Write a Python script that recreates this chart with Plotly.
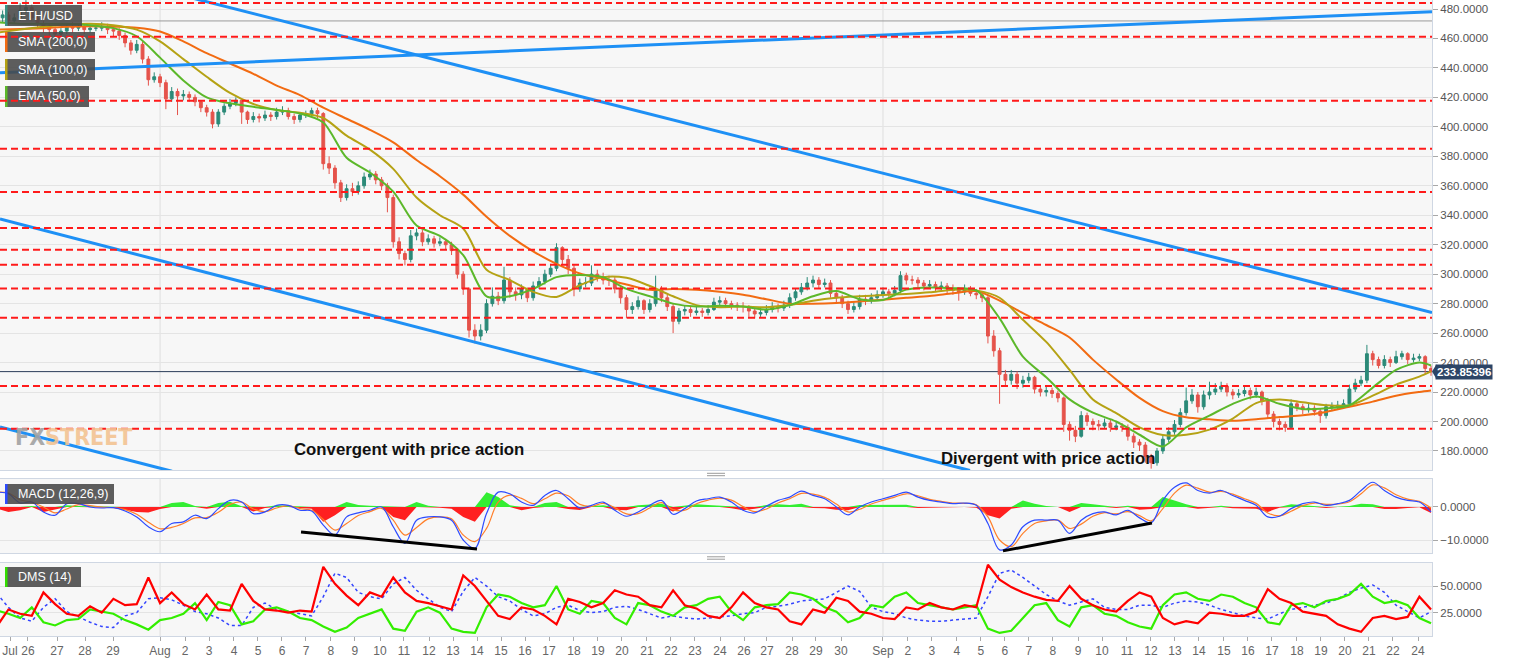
import plotly.graph_objects as go

# ---------------- data ----------------
# time axis: hours since 25 Jul 00:00; candles are 6-hour bars
OPEN0 = 474
CLOSE = [476, 472, 474, 479, 481, 474, 470, 468, 466, 463, 465, 468, 467, 468, 466, 467,
         467, 468, 466, 465, 462, 457, 452, 456, 446, 432, 434, 430, 419, 424, 421, 422,
         420, 417, 413, 410, 402, 410, 414, 416, 418, 410, 405, 407, 406, 408, 407, 410,
         411, 407, 405, 408, 409, 411, 409, 375, 372, 362, 352, 358, 356, 360, 366, 368,
         364, 360, 352, 322, 314, 310, 326, 328, 322, 324, 321, 322, 320, 316, 300, 290,
         262, 258, 262, 280, 285, 282, 296, 288, 286, 290, 284, 292, 295, 300, 304, 318,
         310, 304, 290, 294, 294, 300, 298, 296, 296, 290, 284, 276, 278, 282, 276, 280,
         290, 284, 278, 268, 275, 276, 274, 275, 274, 276, 281, 282, 280, 279, 278, 278,
         275, 273, 274, 276, 278, 277, 279, 284, 288, 291, 294, 296, 293, 294, 287, 284,
         280, 276, 278, 283, 282, 284, 286, 288, 287, 289, 299, 296, 296, 294, 292, 293,
         291, 292, 290, 289, 288, 290, 287, 286, 284, 258, 248, 232, 228, 232, 226, 228,
         230, 222, 220, 221, 219, 216, 198, 194, 190, 204, 200, 198, 197, 199, 196, 197,
         196, 190, 186, 184, 176, 172, 180, 188, 193, 198, 206, 214, 218, 210, 218, 220,
         222, 224, 220, 218, 219, 221, 218, 220, 214, 205, 200, 198, 196, 212, 210, 208,
         209, 207, 204, 210, 210, 211, 212, 222, 226, 228, 246, 242, 238, 242, 240, 244,
         246, 242, 243, 244, 236, 233.85396]
HIGH = [479, 478, 477, 484, 486, 483, 476, 472, 470, 468, 467, 470, 471, 470, 470, 469,
        470, 471, 470, 468, 467, 464, 459, 459, 458, 448, 437, 436, 432, 427, 426, 425,
        424, 422, 418, 415, 412, 412, 416, 419, 420, 419, 411, 410, 409, 411, 410, 413,
        414, 413, 409, 410, 411, 413, 413, 410, 380, 374, 364, 361, 362, 363, 369, 371,
        370, 366, 362, 354, 325, 316, 330, 331, 330, 327, 326, 325, 324, 322, 317, 302,
        291, 266, 266, 283, 291, 288, 305, 298, 291, 293, 291, 295, 298, 303, 307, 321,
        319, 313, 306, 297, 298, 306, 303, 301, 299, 298, 292, 286, 281, 285, 283, 283,
        299, 292, 286, 280, 277, 279, 278, 278, 277, 279, 284, 285, 284, 282, 281, 281,
        279, 277, 277, 279, 281, 280, 282, 287, 290, 294, 298, 299, 298, 297, 296, 289,
        286, 282, 281, 286, 286, 287, 289, 291, 290, 292, 302, 301, 299, 298, 296, 296,
        295, 295, 294, 293, 291, 293, 292, 290, 288, 286, 262, 250, 235, 235, 234, 231,
        233, 231, 224, 224, 223, 221, 217, 200, 197, 207, 206, 202, 201, 202, 201, 200,
        199, 198, 192, 188, 186, 178, 182, 191, 196, 201, 209, 223, 222, 220, 221, 227,
        226, 227, 226, 222, 222, 224, 223, 223, 221, 216, 207, 202, 200, 215, 214, 212,
        212, 211, 209, 212, 213, 214, 215, 225, 229, 231, 252, 248, 244, 245, 244, 248,
        248, 247, 246, 246, 245, 238]
LOW = [471, 469, 470, 472, 477, 472, 467, 464, 462, 460, 461, 463, 464, 465, 463, 464,
       465, 465, 463, 461, 459, 454, 449, 450, 443, 428, 430, 427, 412, 417, 408, 418,
       417, 414, 410, 407, 399, 400, 408, 412, 414, 402, 402, 403, 403, 404, 404, 405,
       408, 405, 402, 403, 406, 407, 406, 371, 368, 358, 349, 350, 353, 354, 358, 364,
       361, 357, 342, 318, 310, 306, 308, 323, 319, 320, 318, 319, 317, 313, 297, 286,
       257, 253, 255, 260, 278, 279, 280, 284, 282, 283, 281, 282, 290, 293, 298, 302,
       306, 300, 285, 288, 291, 292, 295, 293, 292, 287, 280, 270, 273, 276, 273, 274,
       278, 281, 275, 260, 266, 272, 271, 272, 271, 272, 275, 279, 277, 276, 275, 274,
       271, 270, 271, 272, 274, 274, 275, 277, 282, 286, 289, 291, 290, 291, 284, 281,
       277, 273, 274, 276, 279, 280, 282, 284, 284, 285, 287, 293, 293, 291, 289, 290,
       288, 289, 287, 286, 282, 286, 285, 283, 281, 253, 244, 212, 224, 225, 222, 223,
       226, 219, 217, 217, 216, 213, 193, 187, 186, 189, 197, 194, 194, 195, 193, 194,
       193, 187, 182, 180, 172, 168, 170, 178, 186, 191, 196, 204, 212, 206, 208, 215,
       218, 220, 217, 215, 216, 217, 215, 216, 211, 202, 196, 194, 193, 195, 207, 205,
       206, 204, 199, 202, 207, 208, 209, 211, 220, 224, 226, 238, 236, 236, 237, 239,
       242, 239, 240, 241, 232, 231]
CANDLE_T = [6 * (i + 1) for i in range(len(CLOSE))]

# moving averages, one reading per day (00:00) plus the last bar
MA_T = [24 * d for d in range(62)] + [1476]
SMA200 = [466, 466.5, 467, 468, 468.3, 468, 467.3, 464.7, 458, 450, 443, 436, 428, 421.6, 413,
          405.5, 398, 389.5, 377.5, 366.5, 354, 339, 326, 315.5, 307, 300.5, 297, 293, 289.4,
          290, 289.4, 288, 286, 283, 280, 280, 280.5, 281.5, 282.7, 284, 285.2, 287, 288.5,
          282, 273.5, 265.5, 257, 242, 228.5, 216, 207, 202.8, 201.5, 200.5, 201.5, 203,
          204.2, 206.5, 210, 213.5, 217.5, 220, 221]
SMA100 = [464, 466, 468, 469.5, 470, 469, 466, 458, 446, 434, 423, 415.5, 411.5, 409.6, 406,
          394, 384.5, 371.5, 352, 340, 331, 303, 296, 288, 284.5, 292.5, 298, 297.5, 292, 285,
          279, 277.6, 278, 277.6, 279, 282, 284, 285, 285.8, 286.6, 287.7, 289.5, 289, 284,
          269, 254, 235, 215, 205.7, 196, 190.8, 191, 194.5, 202, 212.5, 215, 213, 211, 211,
          217.5, 225, 230.5, 234]
EMA50 = [471, 470, 470, 470, 469, 467, 461.5, 447, 431.5, 420, 416, 413.6, 411.5, 409, 403,
         379, 369, 356, 333, 326, 313, 285, 285, 290, 298, 299.5, 298, 290, 285, 280, 278,
         278.5, 278, 276, 279, 285, 288.5, 283, 282.5, 289.5, 291, 290.5, 289, 270, 244, 230,
         215, 206, 200, 191, 183, 196, 204, 212, 217, 212, 208.5, 209, 211, 223, 235, 240, 238]

# indicator readings every 12 hours
IND_T = [12 * j for j in range(124)]
MACD = [4.5, 4, 1.2, 1.5, -1.5, -2.5, 1, 1, 0, -0.3,
        -0.2, -1.2, -3, -6, -7.5, -5, -4.5, -2.5, -3.5, -0.5,
        2, 1.5, -2, -1.5, 0.5, 0.5, -1, -1.2, -5.5, -8.5,
        -3, -1.8, -1, 0, -6, -11, -4, -3, -3, -4,
        -10, -12.5, -2, 4.5, 4, 1.5, 0.5, 3.5, 5, 2.5,
        -0.3, 0.5, 1.5, -1, -2.8, -1.5, 0.5, 2, -2.2, -0.5,
        1.8, 2.5, 3, 1.5, -1, -1.8, 0.2, 2, 3, 4.8,
        3.5, 2.5, 0, -2.4, 0, 1.5, 2.5, 3.5, 4.5, 3,
        2, 1.5, 1, 1.2, 0.5, -5, -13, -11.5, -6, -4,
        -4, -4, -8, -4, -2, -1.5, -2.4, -1, -3.3, -4.8,
        2, 6, 7.3, 5, 4.2, 5, 3.5, 2, 0.5, -3,
        -2.8, -0.5, 1, 1.5, 0.5, 1, 2, 5, 7.5, 5,
        3, 2, 1.5, -1.5]
SIGNAL = [4.5, 4.2, 2.2, 1.4, 0, -1.8, -0.6, 0.7, 0.4, 0,
          -0.2, -0.8, -2.2, -4.6, -6.6, -6.2, -5, -3.3, -3.2, -1.6,
          0.8, 1.5, -0.6, -1.4, -0.3, 0.4, -0.5, -1, -3.8, -7,
          -5, -2.6, -1.4, -0.4, -4, -8.5, -6.2, -3.6, -3, -3.6,
          -8.5, -10.5, -6.5, 1.5, 3.6, 2.6, 1, 2.5, 4.2, 3.4,
          0.8, 0.2, 1.1, -0.2, -2.1, -2, -0.3, 1.3, -0.8, -1,
          1, 2.1, 2.7, 2.1, 0.1, -1.4, -0.6, 1.2, 2.5, 4.1,
          3.9, 2.9, 0.9, -1.5, -0.7, 0.9, 2, 3, 4, 3.4,
          2.3, 1.7, 1.2, 1.1, 0.7, -3, -10, -12, -8, -5,
          -4.2, -4, -6.5, -5.2, -2.8, -1.7, -2.1, -1.4, -2.6, -4.2,
          -0.5, 4.2, 6.6, 5.7, 4.5, 4.7, 3.9, 2.5, 1.1, -1.8,
          -2.7, -1.3, 0.4, 1.2, 0.8, 0.9, 1.6, 4, 6.7, 5.8,
          3.7, 2.4, 1.7, -0.3]
HIST = [-0.5, -1.5, -1, 0.3, -1.5, -0.8, 0.5, 0.3, 0.2, 0,
        -0.2, -0.8, -1.5, -1.7, -0.6, 1.2, 1.5, 0.3, -0.5, 1.2,
        1.6, 0.2, -1.4, -0.3, 0.5, 0.3, -0.3, -0.5, -4.5, -2.5,
        1.5, 0.6, 0.4, 0.3, -3, -4, 1.5, 0.4, -0.2, -0.5,
        -3, -4.5, 4.5, 3, 0.5, -1, -0.3, 1.2, 1.5, -0.6,
        -0.9, 0.3, 0.5, -0.8, -1, 0.5, 0.8, 1, -1.4, 0.4,
        0.8, 0.6, 0.4, -0.4, -1, -0.5, 0.6, 0.8, 0.6, 1,
        -0.3, -0.4, -0.8, -1, 0.6, 0.6, 0.5, 0.6, 0.7, -0.3,
        -0.3, -0.2, -0.1, 0.1, -0.2, -2.5, -3.5, -0.5, 2, 1,
        0.3, 0, -1.5, 1.2, 0.8, 0.3, -0.3, 0.4, -0.8, -0.6,
        3, 2, 0.8, -0.5, -0.3, 0.4, -0.4, -0.5, -0.5, -1.5,
        -0.2, 0.8, 0.6, 0.3, -0.3, 0.1, 0.3, 1, 0.8, -0.6,
        -0.6, -0.3, -0.1, -1.8]
MINUS_DI = [12, 28, 24, 22, 44, 33, 24, 22, 31, 25,
            38, 32, 33, 58, 34, 44, 33, 28, 42, 28,
            27, 52, 36, 28, 27, 25, 27, 26, 68, 52,
            41, 32, 44, 40, 58, 44, 36, 34, 31, 28,
            60, 50, 36, 22, 19, 30, 28, 22, 14, 38,
            35, 30, 34, 46, 42, 40, 32, 30, 46, 32,
            29, 22, 20, 30, 44, 34, 30, 28, 17, 14,
            28, 25, 39, 36, 26, 24, 20, 19, 30, 28,
            34, 30, 28, 32, 30, 70, 56, 49, 44, 40,
            37, 36, 50, 38, 32, 28, 26, 36, 44, 40,
            20, 14, 17, 15, 25, 24, 22, 22, 26, 47,
            38, 34, 26, 24, 22, 14, 10, 7, 20, 22,
            19, 21, 40, 28]
PLUS_DI = [27, 24, 20, 30, 16, 13, 18, 19, 28, 26,
           24, 18, 14, 9, 18, 20, 24, 34, 18, 35,
           32, 14, 17, 28, 30, 26, 20, 18, 12, 7,
           11, 20, 24, 28, 10, 8, 26, 30, 25, 10,
           7, 6, 30, 42, 40, 34, 30, 32, 50, 28,
           24, 36, 34, 20, 14, 34, 32, 26, 22, 30,
           32, 38, 40, 26, 18, 30, 32, 33, 44, 42,
           38, 30, 26, 16, 20, 32, 30, 40, 44, 34,
           32, 30, 28, 30, 32, 10, 6, 8, 20, 32,
           34, 18, 12, 30, 32, 24, 22, 16, 12, 10,
           32, 42, 44, 38, 36, 42, 40, 34, 30, 16,
           14, 32, 34, 30, 36, 38, 42, 52, 40, 34,
           36, 32, 20, 15]
ADX = [43, 30, 20, 17, 30, 38, 26, 21, 16, 12,
       11, 22, 25, 38, 39, 37, 32, 26, 24, 20,
       13, 13, 30, 34, 28, 26, 24, 22, 40, 62,
       58, 44, 40, 38, 52, 58, 46, 38, 30, 26,
       45, 58, 50, 40, 36, 28, 22, 24, 30, 32,
       27, 25, 26, 30, 31, 28, 24, 20, 22, 20,
       19, 20, 21, 22, 24, 25, 30, 31, 33, 36,
       37, 38, 44, 50, 45, 30, 26, 24, 20, 18,
       17, 17, 18, 19, 20, 40, 62, 65, 58, 50,
       42, 36, 32, 35, 38, 30, 28, 28, 32, 32,
       30, 34, 36, 35, 32, 28, 25, 22, 20, 19,
       24, 28, 30, 32, 34, 38, 44, 48, 51, 44,
       32, 26, 20, 26]

# horizontal support / resistance levels (red dashed) and other reference lines
LEVELS = [484.1, 461.2, 417.8, 385.2, 355.8, 331.4, 316.6, 306.4, 290.2, 270.5, 224.1, 195.1]
GREY_LEVEL = 471.9

# hand-drawn trend lines: (hours, price)
TREND_UPPER_T, TREND_UPPER_P = [157.7, 1477], [494.7, 274.0]
TREND_RISE_T, TREND_RISE_P = [3.3, 1477], [436.8, 478.2]
TREND_LOWER_T, TREND_LOWER_P = [3.3, 1001.5], [337.45, 166.7]
TREND_SMALL_T, TREND_SMALL_P = [3.3, 180.3], [196.3, 166.2]
# hand-drawn lines on the MACD panel: (hours, value)
MACD_LINE1_T, MACD_LINE1_V = [313.1, 494.2], [-7.6, -12.7]
MACD_LINE2_T, MACD_LINE2_V = [1035.5, 1188.8], [-13.3, -4.85]

# x tick labels (hours) as printed under the chart
TICK_H = [13.6, 32.1, 62.0, 90.8, 119.6, 168.0, 193.7, 218.4, 244.1, 268.8, 293.5, 318.2,
          343.9, 368.6, 394.4, 419.0, 444.8, 469.5, 494.2, 518.9, 543.6, 568.3, 594.0, 618.7,
          643.4, 669.1, 693.8, 718.5, 744.3, 769.0, 792.6, 818.4, 843.0, 868.8, 912.0, 937.7,
          962.4, 988.1, 1012.8, 1037.5, 1062.2, 1086.9, 1112.7, 1137.4, 1163.1, 1187.8,
          1212.5, 1237.2, 1262.9, 1287.6, 1312.3, 1338.0, 1362.7, 1387.4, 1412.1, 1436.8, 1462.6]
TICK_LABELS = ["Jul", "26", "27", "28", "29", "Aug", "2", "3", "4", "5", "6", "7", "8", "9",
               "10", "11", "12", "13", "14", "15", "16", "17", "18", "19", "20", "21", "22",
               "23", "24", "26", "27", "28", "29", "30", "Sep", "2", "3", "4", "5", "6", "7",
               "8", "9", "10", "11", "12", "13", "14", "15", "16", "17", "18", "19", "20",
               "21", "22", "24"]
MONTH_STARTS = [168, 912]

# ---------------- styling ----------------
FONT = "Liberation Sans, Arial, sans-serif"
BORDER = "#cfd7e3"
GRID = "#e4e4e4"
C_UP, C_DN = "#2b8a78", "#e5534b"
C_SMA200, C_SMA100, C_EMA50 = "#f26b12", "#b5a214", "#5cb82a"
C_TREND = "#1e90f5"
PLOT_W, PLOT_H = 1432, 636
XR = [3.3, 1477]


def pxx(px):
    return px / PLOT_W


def pxy(py):
    return 1 - py / PLOT_H


OPEN = [OPEN0] + CLOSE[:-1]
LAST = CLOSE[-1]

fig = go.Figure()

# --- price panel ---
fig.add_trace(go.Candlestick(
    x=CANDLE_T, open=OPEN, high=HIGH, low=LOW, close=CLOSE,
    increasing=dict(line=dict(color=C_UP, width=1), fillcolor=C_UP),
    decreasing=dict(line=dict(color=C_DN, width=1), fillcolor=C_DN),
    whiskerwidth=0, xaxis="x", yaxis="y", hoverinfo="skip"))
for vals, col in [(SMA200, C_SMA200), (SMA100, C_SMA100), (EMA50, C_EMA50)]:
    fig.add_trace(go.Scatter(x=MA_T, y=vals, mode="lines", line=dict(color=col, width=2, shape="spline", smoothing=0.8),
                             xaxis="x", yaxis="y", hoverinfo="skip"))
for tx, ty in [(TREND_UPPER_T, TREND_UPPER_P), (TREND_RISE_T, TREND_RISE_P),
               (TREND_LOWER_T, TREND_LOWER_P), (TREND_SMALL_T, TREND_SMALL_P)]:
    fig.add_trace(go.Scatter(x=tx, y=ty, mode="lines", line=dict(color=C_TREND, width=3),
                             xaxis="x", yaxis="y", hoverinfo="skip"))

# --- MACD panel ---
HIST_POS = [max(v, 0) for v in HIST]
HIST_NEG = [min(v, 0) for v in HIST]
fig.add_trace(go.Scatter(x=IND_T, y=HIST_POS, mode="lines", line=dict(width=0, color="#33ee33"),
                         fill="tozeroy", fillcolor="#33ee33", xaxis="x2", yaxis="y2", hoverinfo="skip"))
fig.add_trace(go.Scatter(x=IND_T, y=HIST_NEG, mode="lines", line=dict(width=0, color="#ff2020"),
                         fill="tozeroy", fillcolor="#ff2020", xaxis="x2", yaxis="y2", hoverinfo="skip"))
fig.add_trace(go.Scatter(x=IND_T, y=SIGNAL, mode="lines", line=dict(color="#ff7f2a", width=1.2, shape="spline"),
                         xaxis="x2", yaxis="y2", hoverinfo="skip"))
fig.add_trace(go.Scatter(x=IND_T, y=MACD, mode="lines", line=dict(color="#2d4bff", width=1.2, shape="spline"),
                         xaxis="x2", yaxis="y2", hoverinfo="skip"))
for tx, ty in [(MACD_LINE1_T, MACD_LINE1_V), (MACD_LINE2_T, MACD_LINE2_V)]:
    fig.add_trace(go.Scatter(x=tx, y=ty, mode="lines", line=dict(color="#000000", width=3),
                             xaxis="x2", yaxis="y2", hoverinfo="skip"))

# --- DMS panel ---
fig.add_trace(go.Scatter(x=IND_T, y=ADX, mode="lines", line=dict(color="#3344ff", width=1.5, dash="dot"),
                         xaxis="x3", yaxis="y3", hoverinfo="skip"))
fig.add_trace(go.Scatter(x=IND_T, y=PLUS_DI, mode="lines", line=dict(color="#33ee00", width=2.2),
                         xaxis="x3", yaxis="y3", hoverinfo="skip"))
fig.add_trace(go.Scatter(x=IND_T, y=MINUS_DI, mode="lines", line=dict(color="#ff0000", width=2.2),
                         xaxis="x3", yaxis="y3", hoverinfo="skip"))

shapes = []
# month separators
for m in MONTH_STARTS:
    for yr in ["y domain", "y2 domain", "y3 domain"]:
        shapes.append(dict(type="line", xref="x", x0=m, x1=m, yref=yr, y0=0, y1=1,
                           line=dict(color="#dedede", width=1), layer="below"))
shapes.append(dict(type="line", xref="x domain", x0=0, x1=1, yref="y", y0=GREY_LEVEL, y1=GREY_LEVEL,
                   line=dict(color="#9a9a9a", width=1), layer="below"))
shapes.append(dict(type="line", xref="x domain", x0=0, x1=1, yref="y", y0=LAST, y1=LAST,
                   line=dict(color="#2b3d59", width=1), layer="below"))

# legend boxes
BOXES = [("ETH/USD", 5, 82, 5, 26, "#3c8f84"),
         ("SMA (200,0)", 5, 95, 32, 52, C_SMA200),
         ("SMA (100,0)", 5, 95, 59, 80, C_SMA100),
         ("EMA (50,0)", 5, 89, 86, 107, C_EMA50),
         ("MACD (12,26,9)", 5, 114, 484, 504, "#2d4bff"),
         ("DMS (14)", 5, 81, 567, 587, "#33dd00")]
annotations = []
for label, x0, x1, y0, y1, col in BOXES:
    shapes.append(dict(type="rect", xref="paper", yref="paper", x0=pxx(x0), x1=pxx(x1), y0=pxy(y1), y1=pxy(y0),
                       fillcolor="rgba(72,72,72,0.88)", line=dict(width=0), layer="above"))
    shapes.append(dict(type="rect", xref="paper", yref="paper", x0=pxx(x0), x1=pxx(x0 + 2.5), y0=pxy(y1), y1=pxy(y0),
                       fillcolor=col, line=dict(width=0), layer="above"))
    annotations.append(dict(text=label, xref="paper", yref="paper", x=pxx(16), y=pxy((y0 + y1) / 2),
                            xanchor="left", yanchor="middle", showarrow=False,
                            font=dict(family=FONT, size=12.5, color="white")))

# dashed support / resistance levels
for lv in LEVELS:
    shapes.append(dict(type="line", xref="x domain", x0=0, x1=1, yref="y", y0=lv, y1=lv,
                       line=dict(color="#ff1a1a", width=2, dash="7px,4px"), layer="above"))

# panel grips
for gy in [474.5, 558]:
    for dy in [-1.2, 1.2]:
        shapes.append(dict(type="line", xref="paper", yref="paper", x0=pxx(707), x1=pxx(725),
                           y0=pxy(gy + dy), y1=pxy(gy + dy), line=dict(color="#9a9a9a", width=1)))

# price tag pointer
shapes.append(dict(type="path", xref="paper", yref="y",
                   path=f"M 1,{LAST} L {1 + 4.5 / PLOT_W},{LAST + 5} L {1 + 4.5 / PLOT_W},{LAST - 5} Z",
                   fillcolor="#2c4566", line=dict(width=0)))
annotations.append(dict(text=f"<b>{LAST:.5f}</b>", xref="paper", yref="y", x=1, y=LAST,
                        xanchor="left", yanchor="middle", xshift=3, showarrow=False,
                        bgcolor="#2c4566", borderpad=1,
                        font=dict(family=FONT, size=11.5, color="white")))

# watermark
annotations.append(dict(text='<b><span style="color:#a2a2a2">FX</span><span style="color:#f3c493">STREET</span></b>',
                        xref="paper", yref="paper", x=pxx(13), y=pxy(437), xanchor="left", yanchor="middle",
                        showarrow=False, opacity=0.9,
                        font=dict(family="Liberation Sans Narrow, Arial Narrow, DejaVu Sans Condensed, sans-serif",
                                  size=23)))

# analyst notes
annotations.append(dict(text="<b>Convergent with price action</b>", xref="x", yref="y", x=424, y=181.3,
                        showarrow=False, font=dict(family=FONT, size=16.8, color="#111")))
annotations.append(dict(text="<b>Divergent with price action</b>", xref="x", yref="y", x=1082.3, y=175.2,
                        showarrow=False, font=dict(family=FONT, size=16.8, color="#111")))

axis_common = dict(showline=True, mirror=True, linecolor=BORDER, linewidth=1, zeroline=False)
yaxis_common = dict(side="right", tickformat=".4f", ticks="outside", ticklen=5, tickcolor="#a8a8a8",
                    tickfont=dict(family=FONT, size=11.5, color="#555"), gridcolor=GRID, **axis_common)

fig.update_layout(
    width=1516, height=662,
    margin=dict(l=0, r=84, t=0, b=26),
    paper_bgcolor="white", plot_bgcolor="#f7f7f7",
    showlegend=False,
    font=dict(family=FONT, size=12, color="#555"),
    xaxis=dict(domain=[0, 1], anchor="y", range=XR, showticklabels=False, ticks="", showgrid=False,
               rangeslider=dict(visible=False), **axis_common),
    xaxis2=dict(domain=[0, 1], anchor="y2", matches="x", showticklabels=False, ticks="", showgrid=False,
                **axis_common),
    xaxis3=dict(domain=[0, 1], anchor="y3", matches="x", tickmode="array", tickvals=TICK_H, ticktext=TICK_LABELS,
                ticks="outside", ticklen=4, tickcolor="#a8a8a8", showgrid=False,
                tickfont=dict(family=FONT, size=12, color="#666"), **axis_common),
    yaxis=dict(domain=[pxy(470), 1], anchor="x", range=[167.07, 486.11], tickmode="array",
               tickvals=list(range(180, 481, 20)), **yaxis_common),
    yaxis2=dict(domain=[pxy(553), pxy(479)], anchor="x2", range=[-13.94, 8.48], tickmode="array",
                tickvals=[-10, 0], **yaxis_common),
    yaxis3=dict(domain=[0, pxy(563)], anchor="x3", range=[3.1, 71.6], tickmode="array",
                tickvals=[25, 50], **yaxis_common),
    shapes=shapes,
    annotations=annotations,
)

fig.write_html("out.html", config={"displayModeBar": False},
               post_script="document.body.style.margin='0';document.body.style.overflow='hidden';")
